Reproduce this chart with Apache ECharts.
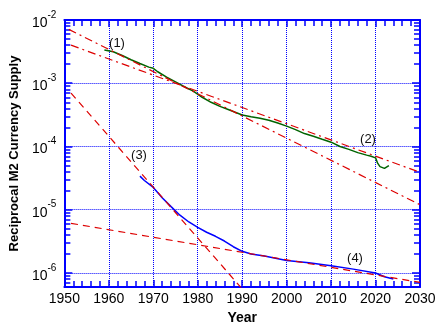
<!DOCTYPE html>
<html><head><meta charset="utf-8">
<script src="https://cdn.jsdelivr.net/npm/echarts@6/dist/echarts.min.js"></script>
<style>html,body{margin:0;padding:0;background:#fff}#c{width:441px;height:333px}</style>
</head><body><div id="c"></div>
<script>
// Data
const m2Years  = [1959, 1961, 1963, 1965, 1967, 1969, 1970, 1971, 1973, 1975, 1977, 1979, 1981, 1983, 1985, 1987, 1990, 1992, 1994, 1996, 1998, 2000, 2002, 2004, 2006, 2008, 2010, 2012, 2014, 2016, 2018, 2019, 2020, 2020.5, 2021, 2022, 2023];
const m2Values = [3.36e-3, 3.15e-3, 2.75e-3, 2.35e-3, 2.05e-3, 1.8e-3, 1.72e-3, 1.52e-3, 1.25e-3, 1.05e-3, 8.8e-4, 7.5e-4, 6.0e-4, 5.0e-4, 4.3e-4, 3.8e-4, 3.15e-4, 2.95e-4, 2.8e-4, 2.6e-4, 2.35e-4, 2.1e-4, 1.85e-4, 1.6e-4, 1.45e-4, 1.3e-4, 1.17e-4, 1.0e-4, 9.0e-5, 8.0e-5, 7.3e-5, 7.0e-5, 6.6e-5, 5.4e-5, 4.8e-5, 4.5e-5, 5.0e-5];
const blueYears  = [1967, 1968, 1970, 1972, 1974, 1976, 1978, 1980, 1982, 1984, 1986, 1988, 1990, 1992, 1995, 2000, 2005, 2010, 2015, 2020, 2022, 2024];
const blueValues = [3.4e-5, 2.9e-5, 2.25e-5, 1.55e-5, 1.12e-5, 8.2e-6, 6.4e-6, 5.25e-6, 4.4e-6, 3.8e-6, 3.2e-6, 2.6e-6, 2.2e-6, 2.0e-6, 1.85e-6, 1.58e-6, 1.45e-6, 1.3e-6, 1.15e-6, 1.0e-6, 8.7e-7, 8.0e-7];
const fitAYears  = [1951, 2030];
const fitAValues = [7.1e-3, 1.2e-5];
const fitBYears  = [1951.5, 2030];
const fitBValues = [4.0e-3, 3.9e-5];
const fit3Years  = [1951.5, 1990];
const fit3Values = [7.0e-4, 5.6e-7];
const fit4Years  = [1951.5, 2030];
const fit4Values = [6.1e-6, 7.1e-7];
const xTicks = [1950, 1960, 1970, 1980, 1990, 2000, 2010, 2020, 2030];
const labelTexts = ['(1)', '(2)', '(3)', '(4)'];

const zip = (a, b) => a.map((v, i) => [v, b[i]]);
const AX = '#0000ff';
const RED = '#dd0000';

const chart = echarts.init(document.getElementById('c'));

function yFmt(v) {
  const l = Math.log10(v);
  const r = Math.round(l);
  if (Math.abs(l - r) > 1e-6) return '';
  return '{b|10}{s|' + r + '}';
}

function mkTick(len) { return {show: true, inside: true, length: len, lineStyle: {color: AX, width: 1.5}}; }
function mkMinor(n, len) { return {show: true, splitNumber: n, length: len, lineStyle: {color: AX, width: 1.5}}; }
function axLine() { return {show: true, onZero: false, lineStyle: {color: AX, width: 2}}; }

chart.setOption({
  animation: false,
  grid: {left: 60, right: 21, top: 20, bottom: 46},
  xAxis: [
    {
      type: 'value', position: 'bottom', min: xTicks[0], max: xTicks[xTicks.length - 1], interval: 10,
      axisLine: axLine(), axisTick: mkTick(7), minorTick: mkMinor(5, 6),
      axisLabel: {color: '#000', fontSize: 14, fontFamily: 'Arial, Liberation Sans', margin: 5, formatter: v => String(v)},
      splitLine: {show: true, lineStyle: {color: AX, type: 'dotted', width: 1}},
      name: 'Year', nameLocation: 'middle', nameGap: 23,
      nameTextStyle: {color: '#000', fontSize: 14, fontWeight: 'bold', fontFamily: 'Arial, Liberation Sans'}
    },
    {
      type: 'value', position: 'top', min: xTicks[0], max: xTicks[xTicks.length - 1], interval: 10,
      axisLine: axLine(), axisTick: mkTick(7), minorTick: mkMinor(5, 6),
      axisLabel: {show: false}, splitLine: {show: false}
    }
  ],
  yAxis: [
    {
      type: 'log', logBase: 10, position: 'left', min: 6e-7, max: 1e-2,
      axisLine: axLine(), axisTick: mkTick(8), minorTick: mkMinor(9, 6),
      axisLabel: {
        color: '#000', margin: 8, formatter: yFmt,
        rich: {
          b: {fontSize: 14, fontFamily: 'Arial, Liberation Sans', color: '#000', padding: [6, 0, 0, 0]},
          s: {fontSize: 10, fontFamily: 'Arial, Liberation Sans', color: '#000', verticalAlign: 'top'}
        }
      },
      splitLine: {show: true, lineStyle: {color: AX, type: 'dotted', width: 1}},
      name: 'Reciprocal M2 Currency Supply', nameLocation: 'middle', nameGap: 39,
      nameTextStyle: {color: '#000', fontSize: 13, fontWeight: 'bold', fontFamily: 'Arial, Liberation Sans'}
    },
    {
      type: 'log', logBase: 10, position: 'right', min: 6e-7, max: 1e-2,
      axisLine: axLine(), axisTick: mkTick(8), minorTick: mkMinor(9, 6),
      axisLabel: {show: false}, splitLine: {show: false}
    }
  ],
  series: [
    {type: 'line', data: zip(m2Years, m2Values), showSymbol: false, lineStyle: {color: '#006400', width: 1.5}, z: 3},
    {type: 'line', data: zip(blueYears, blueValues), showSymbol: false, lineStyle: {color: '#0000ff', width: 1.5}, z: 3},
    {type: 'line', data: zip(fitAYears, fitAValues), showSymbol: false, lineStyle: {color: RED, width: 1.2, type: [8, 4, 2, 4]}, z: 4},
    {type: 'line', data: zip(fitBYears, fitBValues), showSymbol: false, lineStyle: {color: RED, width: 1.2, type: [8, 4, 2, 4]}, z: 4},
    {type: 'line', data: zip(fit3Years, fit3Values), showSymbol: false, lineStyle: {color: RED, width: 1.2, type: [7, 5]}, z: 4},
    {type: 'line', data: zip(fit4Years, fit4Values), showSymbol: false, lineStyle: {color: RED, width: 1.2, type: [7, 5]}, z: 4}
  ],
  graphic: [
    {type: 'text', x: 117, y: 43, style: {text: labelTexts[0], fill: '#111', font: '13px Arial, Liberation Sans', textAlign: 'center', textVerticalAlign: 'middle'}},
    {type: 'text', x: 368, y: 139, style: {text: labelTexts[1], fill: '#111', font: '13px Arial, Liberation Sans', textAlign: 'center', textVerticalAlign: 'middle'}},
    {type: 'text', x: 139, y: 155, style: {text: labelTexts[2], fill: '#111', font: '13px Arial, Liberation Sans', textAlign: 'center', textVerticalAlign: 'middle'}},
    {type: 'text', x: 355, y: 258, style: {text: labelTexts[3], fill: '#111', font: '13px Arial, Liberation Sans', textAlign: 'center', textVerticalAlign: 'middle'}}
  ]
});
</script>
</body></html>
